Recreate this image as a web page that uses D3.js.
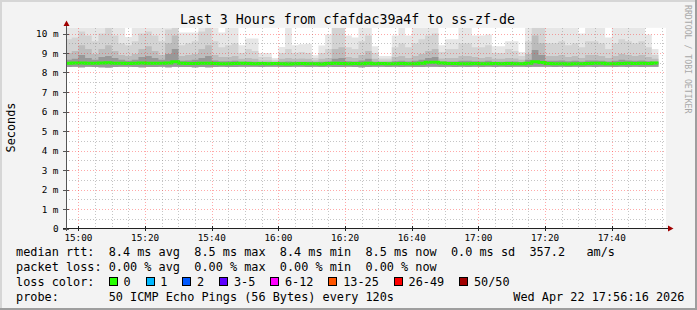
<!DOCTYPE html>
<html>
<head>
<meta charset="utf-8">
<script src="https://cdn.jsdelivr.net/npm/d3@7"></script>
<style>
  html, body { margin: 0; padding: 0; background: #fff; }
  svg { display: block; }
  text { font-family: "DejaVu Sans Mono", monospace; fill: #000; white-space: pre; }
</style>
</head>
<body>
<div id="chart"></div>
<script>
const title = 'Last 3 Hours from cfafdac39a4f to ss-zf-de';
const yLabel = 'Seconds';
const watermark = 'RRDTOOL / TOBI OETIKER';

// one value per 120s step, starting 14:56, in ms
const medianMs = [
  8.47, 8.49, 8.49, 8.48, 8.48, 8.49, 8.50, 8.48, 8.47, 8.46,
  8.48, 8.49, 8.48, 8.47, 8.48, 8.49, 8.55, 8.47, 8.46, 8.46,
  8.47, 8.48, 8.46, 8.45, 8.45, 8.46, 8.47, 8.46, 8.45, 8.46,
  8.45, 8.46, 8.45, 8.44, 8.45, 8.46, 8.45, 8.45, 8.44, 8.46,
  8.47, 8.46, 8.45, 8.46, 8.45, 8.47, 8.45, 8.46, 8.45, 8.45,
  8.46, 8.45, 8.45, 8.48, 8.52, 8.53, 8.49, 8.46, 8.46, 8.45,
  8.45, 8.46, 8.45, 8.45, 8.46, 8.45, 8.46, 8.45, 8.45, 8.47,
  8.55, 8.51, 8.46, 8.45, 8.45, 8.44, 8.45, 8.45, 8.46, 8.48,
  8.47, 8.45, 8.45, 8.46, 8.47, 8.46, 8.47, 8.46, 8.49
];
const pingMin = [
  8.28, 8.29, 8.27, 8.29, 8.28, 8.27, 8.26, 8.28, 8.29, 8.29,
  8.28, 8.27, 8.28, 8.28, 8.29, 8.27, 8.30, 8.28, 8.28, 8.27,
  8.28, 8.27, 8.28, 8.29, 8.28, 8.28, 8.29, 8.29, 8.29, 8.28,
  8.29, 8.29, 8.28, 8.28, 8.29, 8.29, 8.28, 8.29, 8.28, 8.29,
  8.28, 8.28, 8.29, 8.28, 8.27, 8.28, 8.29, 8.29, 8.28, 8.29,
  8.28, 8.29, 8.28, 8.28, 8.29, 8.30, 8.28, 8.29, 8.28, 8.29,
  8.28, 8.29, 8.28, 8.29, 8.28, 8.29, 8.28, 8.29, 8.29, 8.28,
  8.30, 8.29, 8.29, 8.28, 8.29, 8.28, 8.29, 8.28, 8.29, 8.28,
  8.29, 8.29, 8.28, 8.29, 8.28, 8.29, 8.28, 8.29, 8.29
];
const pingQ60 = [
  8.65, 8.70, 8.90, 8.75, 8.65, 8.80, 8.85, 8.75, 8.65, 8.60,
  8.65, 8.80, 8.85, 8.75, 8.65, 8.95, 9.20, 8.60, 8.62, 8.65,
  8.75, 8.85, 8.62, 8.58, 8.58, 8.60, 8.55, 8.57, 8.55, 8.52,
  8.52, 8.50, 8.55, 8.57, 8.55, 8.55, 8.55, 8.52, 8.55, 8.57,
  8.70, 8.75, 8.58, 8.57, 8.62, 8.70, 8.55, 8.52, 8.52, 8.58,
  8.60, 8.57, 8.60, 8.65, 8.75, 8.80, 8.57, 8.57, 8.57, 8.60,
  8.60, 8.58, 8.57, 8.60, 8.55, 8.55, 8.57, 8.56, 8.53, 8.65,
  9.15, 8.90, 8.60, 8.60, 8.62, 8.58, 8.60, 8.57, 8.62, 8.62,
  8.60, 8.57, 8.60, 8.65, 8.62, 8.60, 8.62, 8.58, 8.55
];
const pingQ75 = [
  9.00, 9.10, 9.40, 9.20, 8.95, 9.20, 9.40, 9.10, 8.90, 8.85,
  8.95, 9.20, 9.35, 9.10, 8.90, 9.50, 9.90, 8.85, 8.90, 8.95,
  9.20, 9.40, 8.90, 8.80, 8.80, 8.85, 8.70, 8.75, 8.70, 8.62,
  8.62, 8.57, 8.70, 8.75, 8.70, 8.72, 8.70, 8.62, 8.70, 8.75,
  9.20, 9.30, 8.80, 8.75, 8.90, 9.10, 8.70, 8.60, 8.60, 8.80,
  8.85, 8.75, 8.85, 8.95, 9.10, 9.20, 8.72, 8.75, 8.75, 8.85,
  8.85, 8.80, 8.75, 8.80, 8.70, 8.70, 8.75, 8.72, 8.65, 8.95,
  9.90, 9.50, 8.85, 8.85, 8.90, 8.80, 8.85, 8.75, 8.90, 8.90,
  8.85, 8.75, 8.85, 8.95, 8.90, 8.85, 8.90, 8.80, 8.70
];
const pingQ90 = [
  9.70, 9.80, 10.10, 9.90, 9.60, 10.00, 10.29, 9.90, 9.50, 9.40,
  9.60, 10.00, 10.10, 9.90, 9.60, 10.20, 10.29, 9.40, 9.50, 9.60,
  10.10, 10.29, 9.60, 9.30, 9.40, 9.50, 9.00, 9.20, 9.10, 8.80,
  8.80, 8.65, 9.00, 9.20, 9.00, 9.05, 9.00, 8.75, 9.00, 9.20,
  10.29, 10.29, 9.30, 9.20, 9.60, 9.90, 9.00, 8.72, 8.72, 9.30,
  9.50, 9.30, 9.50, 9.70, 9.90, 10.00, 9.05, 9.20, 9.20, 9.50,
  9.50, 9.30, 9.30, 9.40, 9.00, 9.00, 9.20, 9.10, 8.85, 9.60,
  10.29, 10.29, 9.50, 9.50, 9.60, 9.40, 9.50, 9.30, 9.60, 9.60,
  9.50, 9.20, 9.50, 9.70, 9.60, 9.50, 9.60, 9.30, 8.90
];
const pingMax = [
  10.29, 10.29, 10.29, 10.29, 10.29, 10.29, 10.29, 10.29, 10.29, 9.82,
  10.29, 10.29, 10.29, 10.29, 10.29, 10.29, 10.29, 10.05, 10.05, 10.05,
  10.29, 10.29, 10.29, 10.05, 10.29, 10.29, 9.40, 9.74, 9.74, 9.00,
  9.00, 8.75, 9.31, 10.29, 9.40, 9.45, 9.47, 8.88, 9.38, 9.95,
  10.29, 10.29, 9.90, 9.80, 10.29, 10.29, 9.35, 8.85, 8.85, 9.90,
  10.29, 9.90, 10.29, 10.29, 10.29, 10.29, 9.40, 9.70, 9.70, 10.29,
  10.29, 9.90, 9.90, 9.95, 9.35, 9.35, 9.60, 9.60, 9.05, 10.29,
  10.29, 10.29, 10.29, 10.29, 10.29, 10.29, 10.29, 10.00, 10.29, 10.29,
  10.29, 9.80, 10.29, 10.29, 10.29, 10.29, 10.29, 9.95, 9.20
];

const yTicks = [0, 1, 2, 3, 4, 5, 6, 7, 8, 9, 10];
const lossLabels = ['0', '1', '2', '3-5', '6-12', '13-25', '26-49', '50/50'];
const lossColors = ['#26ff00', '#00b8ff', '#0059ff', '#5e00ff', '#ff00ff', '#ff5500', '#ff0000', '#a10000'];
const statLines = [
  'median rtt:  8.4 ms avg  8.5 ms max  8.4 ms min  8.5 ms now  0.0 ms sd  357.2   am/s',
  'packet loss: 0.00 % avg  0.00 % max  0.00 % min  0.00 % now'
];
const lossTitle = 'loss color:';
const probeLine = 'probe:       50 ICMP Echo Pings (56 Bytes) every 120s';
const stamp = 'Wed Apr 22 17:56:16 2026';

const width = 697, height = 310;
const yMax = 10.29;
const cw = 7.13; // advance of one legend char

const graphEnd = new Date(2026, 3, 22, 17, 56, 16);
const graphStart = d3.timeHour.offset(graphEnd, -3);
const firstStep = new Date(2026, 3, 22, 14, 56);

const x = d3.scaleTime().domain([graphStart, graphEnd]).range([66, 666]);
const y = d3.scaleLinear().domain([0, 10]).range([228.5, 33.5]);

const svg = d3.select('#chart').append('svg')
  .attr('width', width)
  .attr('height', height);

// frame
svg.append('rect').attr('width', width).attr('height', height).attr('fill', '#f3f3f3');
svg.append('path').attr('d', `M0,${height}V0H${width}`).attr('stroke', '#d6d6d6').attr('stroke-width', 4).attr('fill', 'none');
svg.append('path').attr('d', `M0,${height}H${width}V0`).attr('stroke', '#9e9e9e').attr('stroke-width', 4).attr('fill', 'none');

const plotTop = y(yMax), plotBottom = y(0);
svg.append('rect')
  .attr('x', x(graphStart)).attr('y', plotTop)
  .attr('width', x(graphEnd) - x(graphStart)).attr('height', plotBottom - plotTop)
  .attr('fill', '#fff');

svg.append('clipPath').attr('id', 'plot')
  .append('rect')
  .attr('x', x(graphStart)).attr('y', plotTop)
  .attr('width', x(graphEnd) - x(graphStart)).attr('height', plotBottom - plotTop);

// smoke
const rows = medianMs.map((m, i) => ({ t: d3.timeMinute.offset(firstStep, 2 * i), i }));
rows.push({ t: d3.timeMinute.offset(firstStep, 2 * medianMs.length), i: medianMs.length - 1 });

const bands = [
  { hi: pingMax, color: '#e6e6e6' },
  { hi: pingQ90, color: '#d3d3d3' },
  { hi: pingQ75, color: '#bcbcbc' },
  { hi: pingQ60, color: '#989898' }
];

const g = svg.append('g').attr('clip-path', 'url(#plot)');

bands.forEach(b => {
  const area = d3.area()
    .curve(d3.curveStepAfter)
    .x(d => x(d.t))
    .y0(d => y(pingMin[d.i]))
    .y1(d => y(Math.min(b.hi[d.i], yMax)));
  g.append('path').datum(rows).attr('d', area).attr('fill', b.color);
});

// grid
const grid = svg.append('g').attr('shape-rendering', 'crispEdges').attr('stroke-dasharray', '1,2');
const minorY = d3.range(0.5, yMax, 1);
grid.selectAll('.minor-y').data(minorY).enter().append('line')
  .attr('x1', x(graphStart)).attr('x2', x(graphEnd))
  .attr('y1', d => Math.round(y(d)) + 0.5).attr('y2', d => Math.round(y(d)) + 0.5)
  .attr('stroke', 'rgba(140,140,140,0.5)');
const minorX = x.ticks(d3.timeMinute.every(5)).filter(t => t.getMinutes() % 20 !== 0);
grid.selectAll('.minor-x').data(minorX).enter().append('line')
  .attr('x1', d => Math.round(x(d)) + 0.5).attr('x2', d => Math.round(x(d)) + 0.5)
  .attr('y1', plotTop).attr('y2', plotBottom)
  .attr('stroke', 'rgba(140,140,140,0.5)');
grid.selectAll('.major-y').data(yTicks.slice(1)).enter().append('line')
  .attr('x1', x(graphStart)).attr('x2', x(graphEnd))
  .attr('y1', d => Math.round(y(d)) + 0.5).attr('y2', d => Math.round(y(d)) + 0.5)
  .attr('stroke', 'rgba(255,40,40,0.4)');
const majorX = x.ticks(d3.timeMinute.every(20));
grid.selectAll('.major-x').data(majorX).enter().append('line')
  .attr('x1', d => Math.round(x(d)) + 0.5).attr('x2', d => Math.round(x(d)) + 0.5)
  .attr('y1', plotTop).attr('y2', plotBottom)
  .attr('stroke', 'rgba(255,40,40,0.4)');

// median
const medianLine = d3.line()
  .curve(d3.curveStepAfter)
  .x(d => x(d.t))
  .y(d => y(medianMs[d.i]));
g.append('path').datum(rows)
  .attr('d', medianLine)
  .attr('fill', 'none')
  .attr('stroke', '#26ff00')
  .attr('stroke-width', 3);

// axes
const axis = svg.append('g').attr('shape-rendering', 'crispEdges');
axis.append('line').attr('x1', 63).attr('x2', 668).attr('y1', 228.5).attr('y2', 228.5).attr('stroke', '#222');
axis.append('line').attr('x1', 66.5).attr('x2', 66.5).attr('y1', 231).attr('y2', 26).attr('stroke', '#555');
axis.selectAll('.xt').data(majorX).enter().append('line')
  .attr('x1', d => Math.round(x(d)) + 0.5).attr('x2', d => Math.round(x(d)) + 0.5)
  .attr('y1', 226).attr('y2', 231).attr('stroke', '#222');
axis.selectAll('.yt').data(yTicks).enter().append('line')
  .attr('x1', 63).attr('x2', 69)
  .attr('y1', d => Math.round(y(d)) + 0.5).attr('y2', d => Math.round(y(d)) + 0.5)
  .attr('stroke', '#555');
svg.append('path').attr('d', 'M63.5,26L66.5,20.5L69.5,26Z').attr('fill', '#a00000');
svg.append('path').attr('d', 'M668,225.5L673.5,228.5L668,231.5Z').attr('fill', '#a00000');

svg.append('g').selectAll('text').data(yTicks).enter().append('text')
  .attr('x', 58.5).attr('y', d => y(d) + 3.5)
  .attr('text-anchor', 'end')
  .attr('font-size', 9.33)
  .text(d => d === 0 ? '0' : `${d} m`);

svg.append('g').selectAll('text').data(majorX).enter().append('text')
  .attr('x', d => x(d)).attr('y', 241)
  .attr('text-anchor', 'middle')
  .attr('font-size', 9.33)
  .text(d3.timeFormat('%H:%M'));

// titles
svg.append('text')
  .attr('x', 347.5).attr('y', 23.5)
  .attr('text-anchor', 'middle')
  .attr('font-size', 13.25)
  .text(title);

svg.append('text')
  .attr('transform', 'translate(15,127.5) rotate(-90)')
  .attr('text-anchor', 'middle')
  .attr('font-size', 11.85)
  .text(yLabel);

svg.append('text')
  .attr('transform', 'translate(685,5) rotate(90)')
  .attr('font-size', 8.2)
  .style('fill', '#a8a8a8')
  .text(watermark);

// legend
const legend = svg.append('g').attr('font-size', 11.85);
legend.selectAll('.stat').data(statLines).enter().append('text')
  .attr('x', 16).attr('y', (d, i) => 255.5 + i * 15)
  .text(d => d);

legend.append('text').attr('x', 16).attr('y', 285.5).text(lossTitle);
let cursor = 16 + 13 * cw;
lossLabels.forEach((label, i) => {
  legend.append('rect')
    .attr('x', cursor + 0.5).attr('y', 277.5)
    .attr('width', 8).attr('height', 8)
    .attr('fill', lossColors[i])
    .attr('stroke', '#000')
    .attr('shape-rendering', 'crispEdges');
  legend.append('text').attr('x', cursor + 14.7).attr('y', 285.5).text(label);
  cursor += 29.7 + label.length * cw;
});

legend.append('text').attr('x', 16).attr('y', 300.5).text(probeLine);
legend.append('text').attr('x', 513.3).attr('y', 300.5).text(stamp);
</script>
</body>
</html>
